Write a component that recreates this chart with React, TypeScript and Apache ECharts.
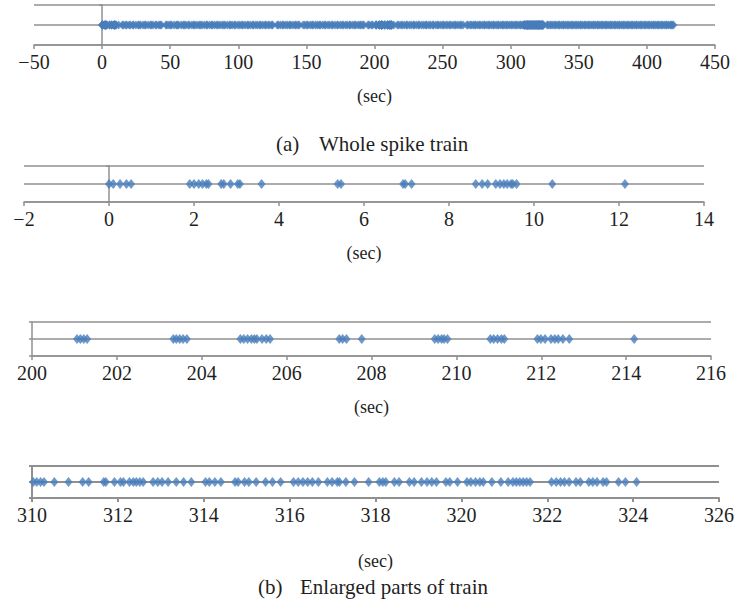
import React, { useEffect, useRef } from "react";
import * as echarts from "echarts";

// Spike times (sec) of the recorded train, split into consecutive stretches.
const spikesStart = [
  0.0, 0.1, 0.26, 0.41, 0.52, 1.9, 2.0, 2.11, 2.2, 2.29, 2.34, 2.64, 2.7, 2.86,
  3.03, 3.08, 3.59, 5.38, 5.46, 6.92, 6.97, 7.12, 8.63, 8.78, 8.91, 9.1, 9.2,
  9.29, 9.37, 9.46, 9.5, 9.59, 10.43, 12.14,
];
const spikesEarly = [
  14.9, 15.6, 17.3, 18.1, 19.9, 20.7, 22.6, 23.0, 24.8, 26.5, 27.1, 28.2, 30.0,
  31.4, 32.1, 33.9, 35.6, 36.2, 37.4, 39.3, 40.0, 41.8, 42.7, 43.5, 46.9, 47.6,
  49.1, 50.3, 51.0, 52.8, 54.5, 55.2, 56.1, 58.0, 59.6, 60.3, 61.5, 63.2, 64.0,
  65.9, 67.3, 68.0, 69.6, 71.2, 72.1, 73.3, 75.0, 76.6, 77.2, 78.9, 80.4, 81.1,
  82.7, 84.3, 85.0, 86.5, 88.1, 89.4, 90.2, 91.9, 93.6, 94.3, 95.5, 97.2, 98.0,
  99.8, 101.1, 102.6, 103.4, 105.0, 106.7, 107.3, 108.8, 110.5, 111.2, 112.9,
  114.1, 115.7, 116.4, 118.0, 119.6, 120.3, 121.9, 123.0, 124.6, 125.2, 128.6,
  129.4, 131.0, 132.5, 133.3, 134.9, 136.2, 137.8, 138.5, 140.1, 141.7, 142.4,
  143.9, 144.7, 147.6, 148.8, 150.3, 151.1, 152.9, 154.2, 155.0, 156.8, 158.1,
  159.5, 160.2, 161.9, 163.4, 164.1, 165.8, 167.0, 168.7, 169.3, 171.0, 172.6,
  173.2, 174.9, 176.3, 177.1, 178.8, 180.0, 181.6, 182.4, 184.1, 185.5, 186.2,
  187.9, 189.3, 190.0, 191.4, 192.2, 195.3, 196.0, 197.8, 198.6,
];
const spikesMiddle = [
  201.06, 201.14, 201.22, 201.3, 203.33, 203.4, 203.48, 203.56, 203.65, 204.91,
  204.99, 205.08, 205.17, 205.24, 205.3, 205.42, 205.52, 205.61, 207.24,
  207.32, 207.41, 207.77, 209.49, 209.57, 209.65, 209.71, 209.79, 210.8,
  210.88, 210.97, 211.06, 211.13, 211.91, 211.99, 212.09, 212.23, 212.32,
  212.4, 212.51, 212.66, 214.19,
];
const spikesLateMid = [
  216.8, 217.9, 219.5, 220.3, 221.8, 223.4, 224.1, 225.7, 227.0, 228.6, 229.3,
  230.9, 232.4, 233.0, 234.7, 236.1, 237.5, 238.2, 239.9, 241.0, 242.6, 243.3,
  245.0, 246.4, 247.1, 248.7, 250.2, 250.9, 252.5, 253.8, 255.3, 256.0, 257.7,
  259.1, 259.8, 261.4, 262.9, 263.6, 265.1, 267.9, 268.6, 270.2, 271.0, 272.4,
  273.6, 274.3, 275.8, 277.0, 277.7, 279.2, 280.5, 281.1, 282.6, 283.8, 284.5,
  285.9, 287.2, 287.8, 289.3, 290.6, 291.2, 292.7, 293.9, 294.6, 295.8, 297.1,
  297.8, 299.2, 300.4, 301.1, 302.5, 303.7, 304.4, 305.6, 306.9, 307.5, 308.8,
  309.5,
];
const spikesLate = [
  310.03, 310.11, 310.2, 310.28, 310.52, 310.85, 311.18, 311.32, 311.67,
  311.72, 311.92, 312.06, 312.13, 312.27, 312.36, 312.43, 312.51, 312.59,
  312.82, 312.93, 313.03, 313.17, 313.36, 313.53, 313.71, 314.04, 314.13,
  314.26, 314.4, 314.73, 314.8, 314.95, 315.05, 315.22, 315.44, 315.6, 315.79,
  316.09, 316.2, 316.31, 316.42, 316.53, 316.67, 316.88, 316.99, 317.11,
  317.16, 317.31, 317.51, 317.84, 318.09, 318.17, 318.24, 318.44, 318.55,
  318.79, 318.9, 319.07, 319.2, 319.31, 319.42, 319.64, 319.73, 319.91, 320.13,
  320.22, 320.33, 320.43, 320.51, 320.71, 320.92, 321.09, 321.2, 321.28,
  321.36, 321.44, 321.52, 321.6, 322.1, 322.21, 322.31, 322.4, 322.51, 322.67,
  322.77, 322.97, 323.06, 323.16, 323.3, 323.38, 323.66, 323.82, 324.08,
];
const spikesEnd = [
  326.7, 327.5, 328.9, 329.6, 330.8, 332.1, 332.7, 334.0, 335.3, 335.9, 337.2,
  338.4, 339.1, 340.3, 341.6, 342.2, 343.5, 344.8, 345.4, 346.6, 347.9, 348.5,
  349.8, 351.0, 351.7, 352.9, 354.2, 354.8, 356.1, 357.3, 358.0, 359.2, 360.5,
  361.1, 362.4, 363.6, 364.3, 365.5, 366.8, 367.4, 368.7, 369.9, 370.6, 371.8,
  373.1, 373.7, 375.0, 376.2, 376.9, 378.1, 379.4, 380.0, 381.3, 382.5, 383.2,
  384.4, 385.7, 386.3, 387.6, 388.8, 389.5, 390.7, 392.0, 392.6, 393.9, 395.1,
  395.8, 397.0, 398.3, 398.9, 400.2, 401.4, 402.1, 403.3, 404.6, 405.2, 406.5,
  407.7, 408.4, 409.6, 410.9, 411.5, 412.8, 414.0, 414.7, 415.9, 417.2, 417.8,
  418.6, 419.5,
];

const spikeTrain = [
  ...spikesStart,
  ...spikesEarly,
  ...spikesMiddle,
  ...spikesLateMid,
  ...spikesLate,
  ...spikesEnd,
];

// Time windows of the four views: [min, max, tick interval]
const windows = [
  [-50, 450, 50],
  [-2, 14, 2],
  [200, 216, 2],
  [310, 326, 2],
];

const axisLabelText = "(sec)";
const captionA = ["(a)", "Whole spike train"];
const captionB = ["(b)", "Enlarged parts of train"];

const SERIF = "'Liberation Serif', 'DejaVu Serif', serif";
const GRAY = "#909090";
const INK = "#1f1f1f";
const BLUE = "#4a7ebb";

// Pixel boxes of the four plot areas, gap down to the "(sec)" title, line width, marker size
const boxes = [
  { left: 34, top: 5, width: 681, height: 40, nameGap: 42, line: 1.5, mark: [8, 9] },
  { left: 24, top: 166, width: 680, height: 36, nameGap: 42, line: 1.5, mark: [8, 10] },
  { left: 32, top: 322, width: 679, height: 34, nameGap: 42, line: 1.5, mark: [8, 10] },
  { left: 32, top: 466, width: 688, height: 32, nameGap: 54, line: 2, mark: [8, 10] },
];

export default function App() {
  const ref = useRef<HTMLDivElement>(null);

  useEffect(() => {
    if (!ref.current) return;
    const chart = echarts.init(ref.current, null, { renderer: "svg" });

    const captionStyle = (text: string) => ({
      text,
      font: `21px ${SERIF}`,
      fill: INK,
      align: "left",
      verticalAlign: "middle",
    });

    chart.setOption({
      animation: false,
      backgroundColor: "#ffffff",
      grid: boxes.map((b) => ({
        left: b.left,
        top: b.top,
        width: b.width,
        height: b.height,
        containLabel: false,
      })),
      xAxis: windows.map(([min, max, interval], i) => {
        const lineStyle = { color: GRAY, width: boxes[i].line };
        return {
          type: "value",
          gridIndex: i,
          min,
          max,
          interval,
          axisLine: { show: true, onZero: true, lineStyle },
          axisTick: { show: true, inside: false, length: 4, lineStyle },
          splitLine: { show: false },
          axisLabel: {
            margin: 7,
            fontFamily: SERIF,
            fontSize: 20,
            color: INK,
            formatter: (v: number) =>
              v < 0 ? "\u2212" + Math.abs(v) : String(v),
          },
          name: axisLabelText,
          nameLocation: "middle",
          nameGap: boxes[i].nameGap,
          nameTextStyle: { fontFamily: SERIF, fontSize: 18, color: INK },
        };
      }),
      yAxis: windows.map((_, i) => {
        const lineStyle = { color: GRAY, width: boxes[i].line };
        return {
          type: "value",
          gridIndex: i,
          min: 0,
          max: 2,
          interval: 1,
          axisLine: { show: true, onZero: true, lineStyle },
          axisTick: { show: true, inside: false, length: 3, lineStyle },
          axisLabel: { show: false },
          splitLine: { show: true, lineStyle },
        };
      }),
      series: windows.map((_, i) => ({
        type: "scatter",
        xAxisIndex: i,
        yAxisIndex: i,
        clip: true,
        symbol: "diamond",
        symbolSize: boxes[i].mark,
        itemStyle: { color: BLUE },
        data: spikeTrain.map((t) => [t, 1]),
      })),
      graphic: [
        { type: "text", x: 276, y: 144, style: captionStyle(captionA[0]) },
        { type: "text", x: 319, y: 144, style: captionStyle(captionA[1]) },
        { type: "text", x: 258, y: 587, style: captionStyle(captionB[0]) },
        { type: "text", x: 300, y: 587, style: captionStyle(captionB[1]) },
      ],
    });

    return () => chart.dispose();
  }, []);

  return (
    <div
      ref={ref}
      style={{ position: "absolute", left: 0, top: 0, width: 737, height: 602 }}
    />
  );
}
